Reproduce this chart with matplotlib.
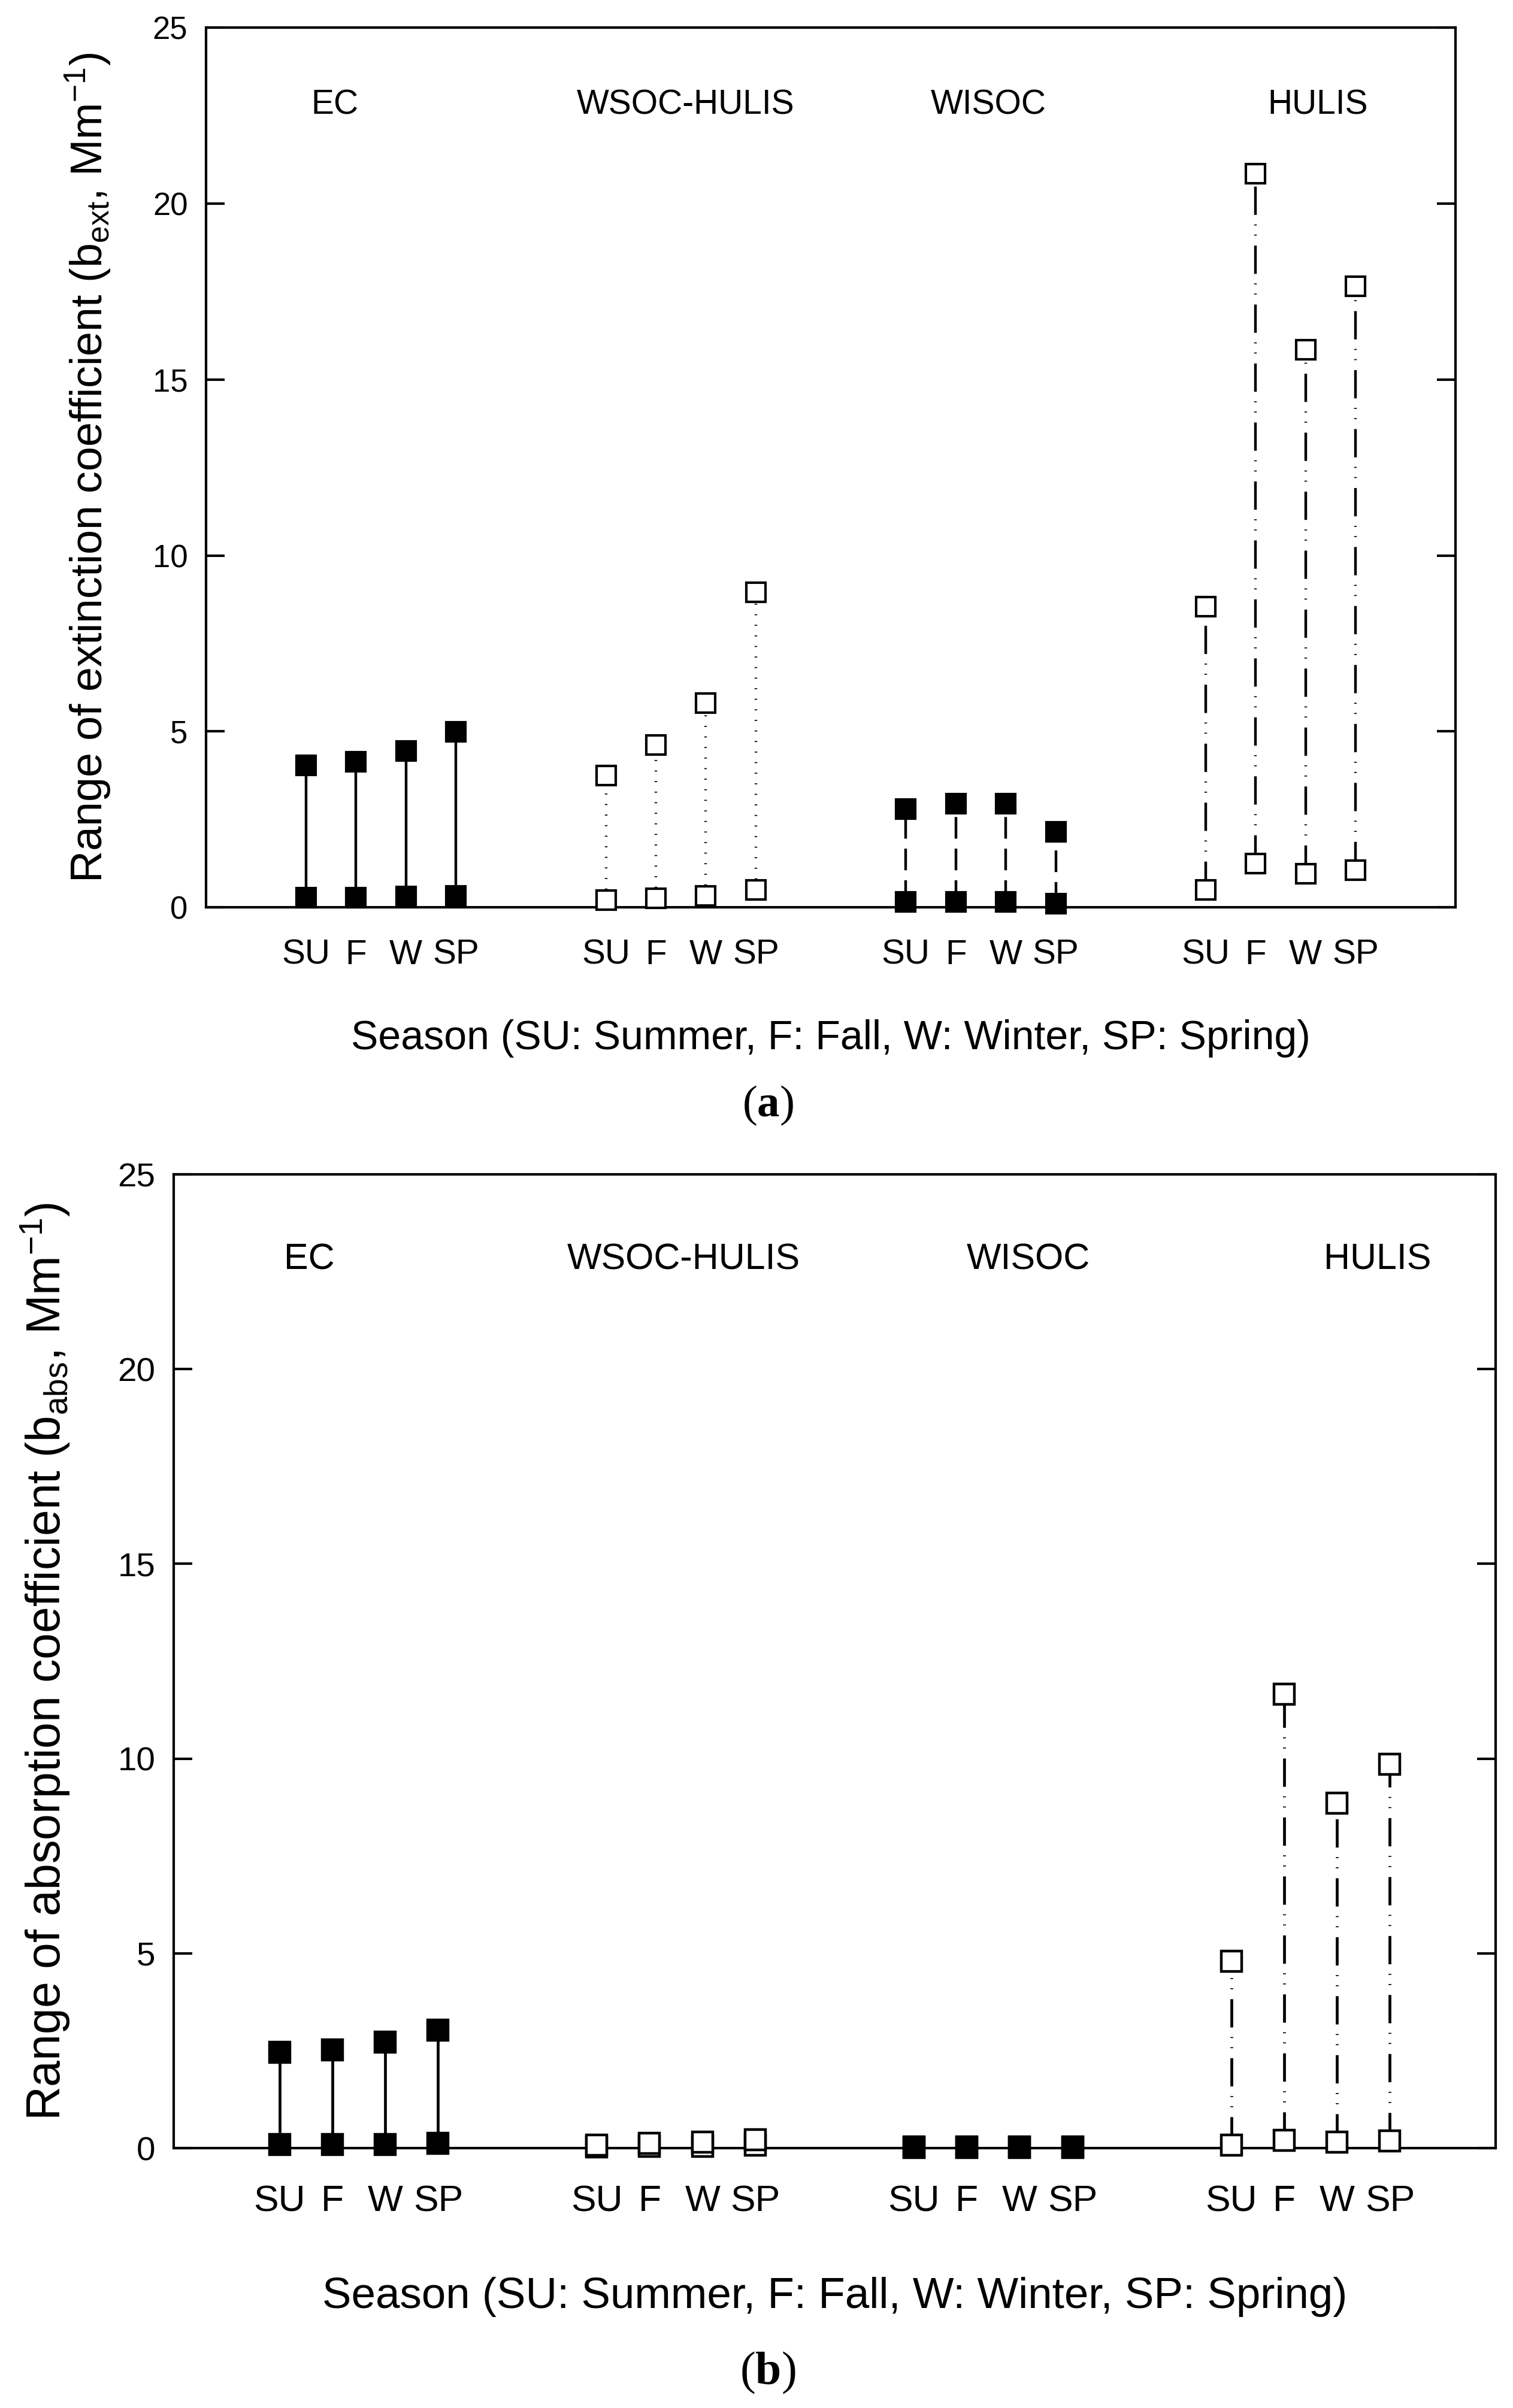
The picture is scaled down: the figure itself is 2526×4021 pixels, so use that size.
import matplotlib.pyplot as plt

plt.rcParams['font.family'] = ['Liberation Sans', 'DejaVu Sans']
plt.rcParams['lines.scale_dashes'] = False
plt.rcParams['mathtext.fontset'] = 'custom'
plt.rcParams['mathtext.bf'] = 'Liberation Serif:bold'

# data
seasons = ['SU', 'F', 'W', 'SP']
species = ['EC', 'WSOC-HULIS', 'WISOC', 'HULIS']
positions = [[1, 2, 3, 4], [7, 8, 9, 10], [13, 14, 15, 16], [19, 20, 21, 22]]

# (a) extinction coefficient, Mm-1
ext_low = {
    'EC': [0.27, 0.28, 0.30, 0.32],
    'WSOC-HULIS': [0.20, 0.25, 0.32, 0.50],
    'WISOC': [0.15, 0.15, 0.15, 0.10],
    'HULIS': [0.50, 1.25, 0.95, 1.05],
}
ext_high = {
    'EC': [4.04, 4.14, 4.45, 4.99],
    'WSOC-HULIS': [3.75, 4.62, 5.80, 8.95],
    'WISOC': [2.80, 2.95, 2.95, 2.15],
    'HULIS': [8.55, 20.85, 15.85, 17.65],
}
# (b) absorption coefficient, Mm-1
abs_low = {
    'EC': [0.10, 0.10, 0.10, 0.12],
    'WSOC-HULIS': [0.03, 0.05, 0.05, 0.08],
    'WISOC': [0.02, 0.02, 0.02, 0.01],
    'HULIS': [0.08, 0.20, 0.15, 0.18],
}
abs_high = {
    'EC': [2.46, 2.52, 2.73, 3.03],
    'WSOC-HULIS': [0.08, 0.12, 0.15, 0.22],
    'WISOC': [0.04, 0.04, 0.04, 0.03],
    'HULIS': [4.80, 11.65, 8.85, 9.85],
}

styles = {
    'EC': dict(ls='-', mfc='black'),
    'WSOC-HULIS': dict(ls=(0, (1.2, 11.5)), mfc='white'),
    'WISOC': dict(ls=(0, (26, 12)), mfc='black'),
    'HULIS': dict(ls=(0, (34, 12, 1.2, 11, 1.2, 11.5)), mfc='white'),
}

fig = plt.figure(figsize=(25.26, 40.21), dpi=100)
ax_a = fig.add_axes([0.1362, 0.6232, 0.8258, 0.3653])
ax_b = fig.add_axes([0.1148, 0.1079, 0.8737, 0.4044])


def draw(ax, low, high, label_x, ylabel, k, ylpad, tpad, xlpad):
    for sp in species:
        st = styles[sp]
        for x, lo, hi in zip(positions[species.index(sp)], low[sp], high[sp]):
            ax.plot([x, x], [lo, hi], color='black', lw=3.2 * k, ls=st['ls'],
                    marker='s', ms=23 * k, mew=3.0 * k, mec='black',
                    mfc=st['mfc'], clip_on=False, zorder=3)
    for sp, lx in zip(species, label_x):
        ax.text(lx, 22.8, sp, ha='center', va='center', fontsize=41 * k)
    ax.set_xlim(-1, 24)
    ax.set_ylim(0, 25)
    ax.set_yticks([0, 5, 10, 15, 20, 25])
    ticks = [p for grp in positions for p in grp]
    ax.set_xticks(ticks)
    ax.set_xticklabels(seasons * 4)
    ax.tick_params(axis='x', length=0, pad=tpad, labelsize=42 * k)
    ax.tick_params(axis='y', direction='in', length=22, width=3, pad=22,
                   labelsize=38 * k, right=True)
    for s in ax.spines.values():
        s.set_linewidth(3)
    ax.set_ylabel(ylabel, fontsize=53 * k, labelpad=ylpad)
    ax.set_xlabel('Season (SU: Summer, F: Fall, W: Winter, SP: Spring)',
                  fontsize=49 * k, labelpad=xlpad)


draw(ax_a, ext_low, ext_high, [1.58, 8.6, 14.66, 21.25],
     r'Range of extinction coefficient (b$\mathregular{_{ext}}$, Mm$\mathregular{^{-1}}$)',
     1.0, 48, 38, 58)
draw(ax_b, abs_low, abs_high, [1.56, 8.64, 15.16, 21.77],
     r'Range of absorption coefficient (b$\mathregular{_{abs}}$, Mm$\mathregular{^{-1}}$)',
     1.07, 55, 44, 70)

fig.text(0.5075, 1 - 1846 / 4021, r'($\mathbf{a}$)', ha='center', va='center',
         fontsize=54, family='Liberation Serif')
fig.text(0.5075, 1 - 3962 / 4021, r'($\mathbf{b}$)', ha='center', va='center',
         fontsize=56, family='Liberation Serif')

fig.savefig('out.png', dpi=100)
